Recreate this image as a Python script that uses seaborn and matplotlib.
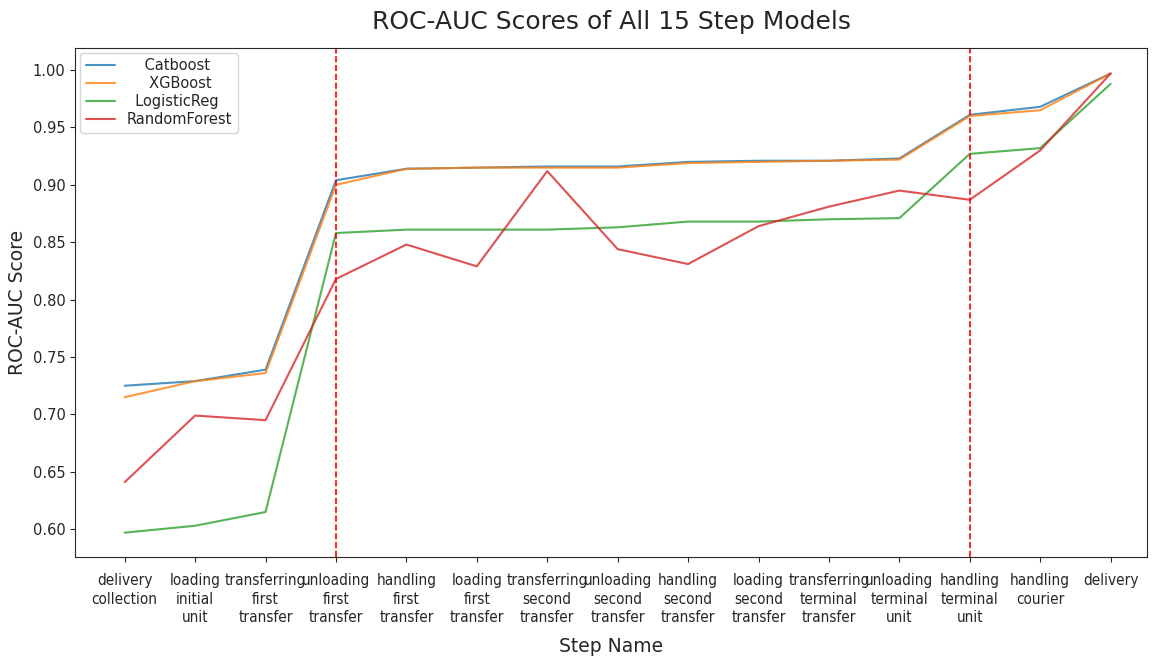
import pandas as pd
import numpy as np
from matplotlib import pyplot as plt
import seaborn as sns

steps = ['delivery\ncollection', 'loading\ninitial\nunit', 'transferring\nfirst\ntransfer',
         'unloading\nfirst\ntransfer', 'handling\nfirst\ntransfer', 'loading\nfirst\ntransfer',
         'transferring\nsecond\ntransfer', 'unloading\nsecond\ntransfer', 'handling\nsecond\ntransfer',
         'loading\nsecond\ntransfer', 'transferring\nterminal\ntransfer', 'unloading\nterminal\nunit',
         'handling\nterminal\nunit', 'handling\ncourier', 'delivery']

catboost = [0.725, 0.729, 0.739, 0.904, 0.914, 0.915, 0.916, 0.916, 0.920, 0.921, 0.921, 0.923, 0.961, 0.968, 0.997]
xgboost = [0.715, 0.729, 0.736, 0.900, 0.914, 0.915, 0.915, 0.915, 0.919, 0.920, 0.921, 0.922, 0.960, 0.965, 0.997]
logreg = [0.597, 0.603, 0.615, 0.858, 0.861, 0.861, 0.861, 0.863, 0.868, 0.868, 0.870, 0.871, 0.927, 0.932, 0.988]
rforest = [0.641, 0.699, 0.695, 0.818, 0.848, 0.829, 0.912, 0.844, 0.831, 0.864, 0.881, 0.895, 0.887, 0.930, 0.997]

models = ['    Catboost', '     XGBoost', '  LogisticReg', 'RandomForest']
split_steps = [3, 12]

sns.set_style('ticks')
plt.rcParams['font.family'] = ['DejaVu Sans']

# long-form table for seaborn
df = pd.DataFrame({
    'step': list(range(len(steps))) * 4,
    'score': catboost + xgboost + logreg + rforest,
    'model': np.repeat(models, len(steps)),
})

fig, ax = plt.subplots(figsize=(11.6, 6.61), dpi=100)
sns.lineplot(data=df, x='step', y='score', hue='model', palette='tab10',
             linewidth=1.5, alpha=0.8, ax=ax)

for s in split_steps:
    ax.axvline(s, color='red', linestyle='--', linewidth=1.2)

ax.set_xticks(range(len(steps)))
ax.set_xticklabels(steps, fontsize=11, fontstretch='condensed', linespacing=1.3)
ax.tick_params(axis='x', pad=8)
ax.tick_params(axis='y', labelsize=10.5)
ax.set_yticks(np.arange(0.60, 1.001, 0.05))
ax.set_xlim(-0.7, 14.52)
ax.set_ylim(0.5756, 1.019)
ax.set_xlabel('Step Name', fontsize=13.5, labelpad=8)
ax.set_ylabel('ROC-AUC Score', fontsize=13.5)
ax.set_title('ROC-AUC Scores of All 15 Step Models', fontsize=18, pad=14)
ax.legend(loc='upper left', fontsize=10.5, handlelength=2, borderaxespad=0.3,
          labelspacing=0.2)

plt.subplots_adjust(left=0.065, right=0.989, top=0.927, bottom=0.157)
plt.savefig('out.png')
